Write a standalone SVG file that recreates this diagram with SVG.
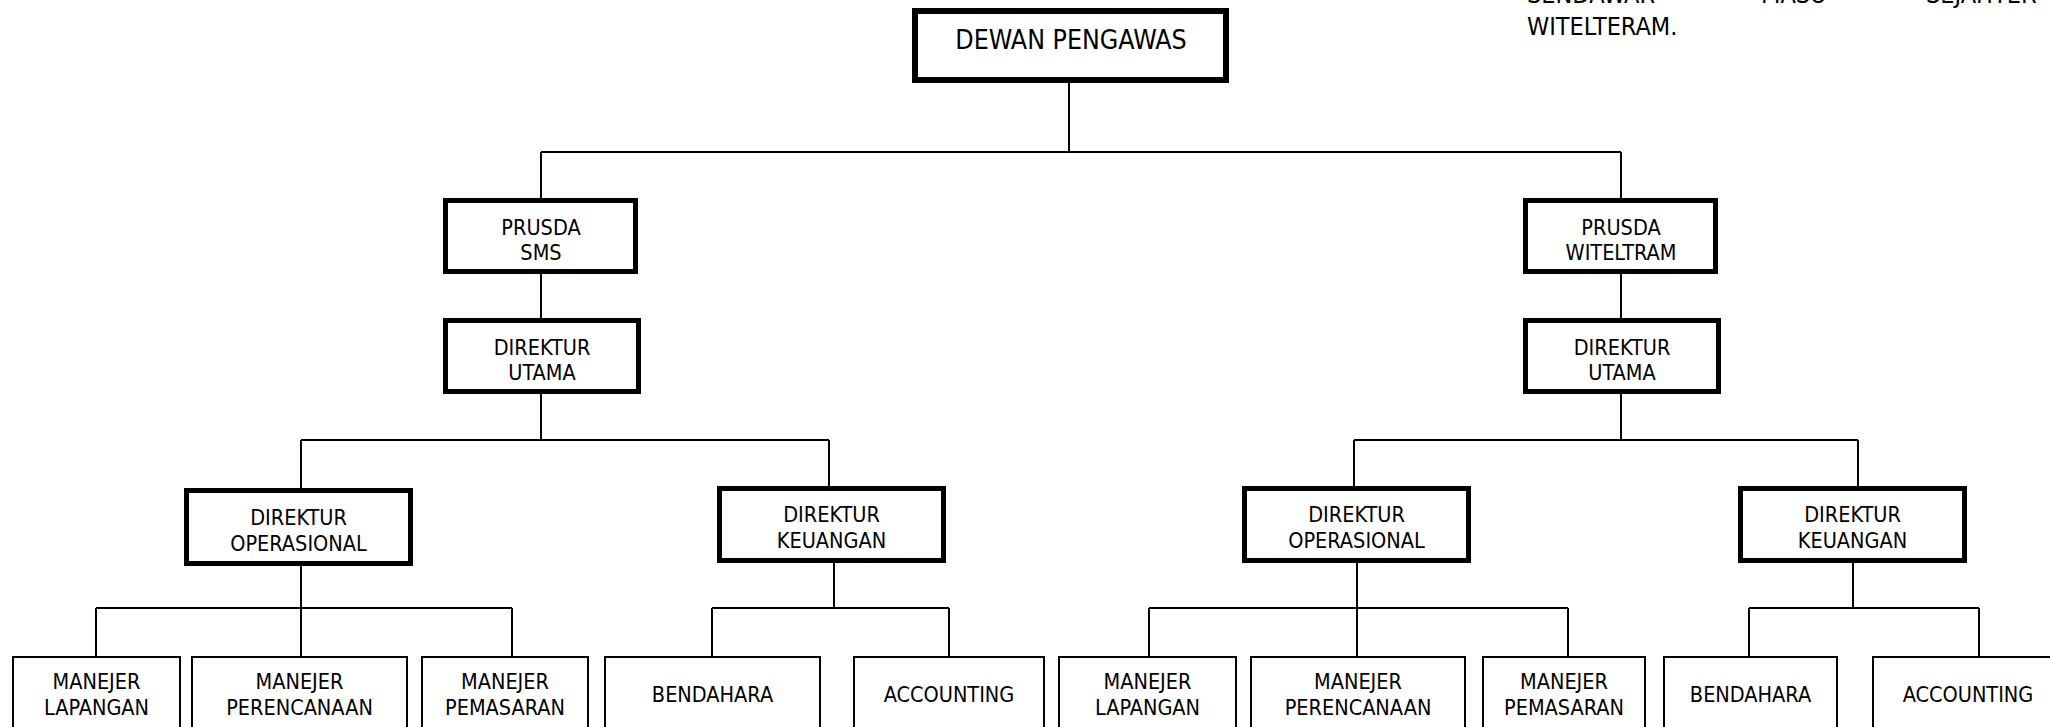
<svg xmlns="http://www.w3.org/2000/svg" width="2050" height="727" viewBox="0 0 2050 727">
<style>
.bg{fill:#ffffff}
.thick{fill:#ffffff;stroke:#000000;stroke-width:5}
.top{fill:#ffffff;stroke:#000000;stroke-width:6}
.thin{fill:#ffffff;stroke:#000000;stroke-width:2}
.con{stroke:#000000;stroke-width:2;fill:none}
text{font-family:"DejaVu Sans Condensed","DejaVu Sans",sans-serif;font-stretch:condensed;fill:#000000;text-anchor:middle;font-size:21.5px}
.big{font-size:26.5px}
.para{font-size:25px;text-anchor:start}
</style>
<rect class="bg" x="0" y="0" width="2050" height="727"/>
<g id="connectors">
<path class="con" d="M1069 83V152M541 152H1621M541 152V198M1621 152V198M541 274V318M1621 274V318M541 394V440M1621 394V440"/>
<path class="con" d="M301 440H829M301 440V488M829 440V486M1354 440H1858M1354 440V486M1858 440V486"/>
<path class="con" d="M301 566V608M96 608H512M96 608V656M301 608V656M512 608V656"/>
<path class="con" d="M834 563V608M712 608H949M712 608V656M949 608V656"/>
<path class="con" d="M1357 563V608M1149 608H1568M1149 608V656M1357 608V656M1568 608V656"/>
<path class="con" d="M1853 563V608M1749 608H1979M1749 608V656M1979 608V656"/>
</g>
<g id="dewan-pengawas"><rect class="top" x="915" y="11" width="311" height="69"/><text class="big" x="1071" y="49">DEWAN PENGAWAS</text></g>
<g id="prusda-sms"><rect class="thick" x="445.5" y="200.5" width="190" height="71"/><text x="541" y="235">PRUSDA</text><text x="541" y="260">SMS</text></g>
<g id="direktur-utama-sms"><rect class="thick" x="445.5" y="320.5" width="193" height="71"/><text x="542" y="355">DIREKTUR</text><text x="542" y="380">UTAMA</text></g>
<g id="prusda-witeltram"><rect class="thick" x="1525.5" y="200.5" width="190" height="71"/><text x="1621" y="235">PRUSDA</text><text x="1621" y="260">WITELTRAM</text></g>
<g id="direktur-utama-witeltram"><rect class="thick" x="1525.5" y="320.5" width="193" height="71"/><text x="1622" y="355">DIREKTUR</text><text x="1622" y="380">UTAMA</text></g>
<g id="direktur-operasional-sms"><rect class="thick" x="186.5" y="490.5" width="224" height="73"/><text x="298.5" y="525">DIREKTUR</text><text x="298.5" y="551">OPERASIONAL</text></g>
<g id="direktur-keuangan-sms"><rect class="thick" x="719.5" y="488.5" width="224" height="72"/><text x="831.5" y="522">DIREKTUR</text><text x="831.5" y="548">KEUANGAN</text></g>
<g id="direktur-operasional-witeltram"><rect class="thick" x="1244.5" y="488.5" width="224" height="72"/><text x="1356.5" y="522">DIREKTUR</text><text x="1356.5" y="548">OPERASIONAL</text></g>
<g id="direktur-keuangan-witeltram"><rect class="thick" x="1740.5" y="488.5" width="224" height="72"/><text x="1852.5" y="522">DIREKTUR</text><text x="1852.5" y="548">KEUANGAN</text></g>
<g id="manejer-lapangan-sms"><rect class="thin" x="13" y="657" width="167" height="90"/><text x="96.5" y="689">MANEJER</text><text x="96.5" y="715">LAPANGAN</text></g>
<g id="manejer-perencanaan-sms"><rect class="thin" x="192" y="657" width="215" height="90"/><text x="299.5" y="689">MANEJER</text><text x="299.5" y="715">PERENCANAAN</text></g>
<g id="manejer-pemasaran-sms"><rect class="thin" x="422" y="657" width="166" height="90"/><text x="505" y="689">MANEJER</text><text x="505" y="715">PEMASARAN</text></g>
<g id="bendahara-sms"><rect class="thin" x="605" y="657" width="215" height="90"/><text x="712.5" y="702">BENDAHARA</text></g>
<g id="accounting-sms"><rect class="thin" x="854" y="657" width="190" height="90"/><text x="949" y="702">ACCOUNTING</text></g>
<g id="manejer-lapangan-witeltram"><rect class="thin" x="1059" y="657" width="177" height="90"/><text x="1147.5" y="689">MANEJER</text><text x="1147.5" y="715">LAPANGAN</text></g>
<g id="manejer-perencanaan-witeltram"><rect class="thin" x="1251" y="657" width="214" height="90"/><text x="1358" y="689">MANEJER</text><text x="1358" y="715">PERENCANAAN</text></g>
<g id="manejer-pemasaran-witeltram"><rect class="thin" x="1483" y="657" width="162" height="90"/><text x="1564" y="689">MANEJER</text><text x="1564" y="715">PEMASARAN</text></g>
<g id="bendahara-witeltram"><rect class="thin" x="1664" y="657" width="173" height="90"/><text x="1750.5" y="702">BENDAHARA</text></g>
<g id="accounting-witeltram"><rect class="thin" x="1873" y="657" width="200" height="90"/><text x="1968" y="702">ACCOUNTING</text></g>
<g id="paragraph">
<text class="para" y="3"><tspan x="1527">SENDAWAR</tspan><tspan x="1761">MASU</tspan><tspan x="1926">SEJAHTER</tspan></text>
<text class="para" x="1527" y="35">WITELTERAM.</text>
</g>
</svg>
